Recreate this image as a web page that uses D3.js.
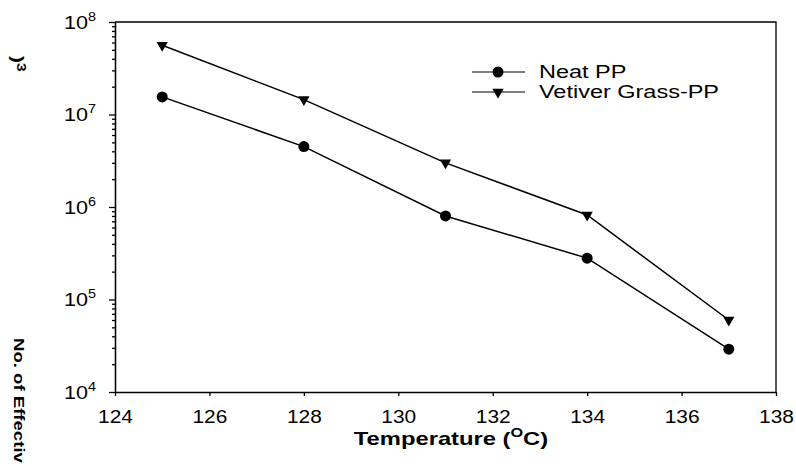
<!DOCTYPE html>
<html lang="en">
<head>
<meta charset="utf-8"/>
<script src="https://d3js.org/d3.v7.min.js"></script>
<style>
  body { margin: 0; background: #fff; }
  text { font-family: "Liberation Sans", Arial, sans-serif; fill: #000; }
</style>
</head>
<body>
<script>
    // Data
    var temps = [125, 128, 131, 134, 137];
    var neatPP = [1.55e7, 4.5e6, 8.0e5, 2.8e5, 2.9e4];
    var vetiverPP = [5.6e7, 1.45e7, 3.0e6, 8.2e5, 6.0e4];
    var seriesNames = ["Neat PP", "Vetiver Grass-PP"];
    var xTicks = [124, 126, 128, 130, 132, 134, 136, 138];
    var yExponents = [4, 5, 6, 7, 8];

    var W = 796, H = 467;
    var margin = {top: 22, right: 20, bottom: 75, left: 115};

    var svg = d3.select("body").append("svg")
        .attr("width", W)
        .attr("height", H);

    var x = d3.scaleLinear().domain([124, 138]).range([margin.left, W - margin.right]);
    var y = d3.scaleLog().domain([1e4, 1e8]).range([H - margin.bottom, margin.top]);

    // frame (top and right)
    svg.append("path")
        .attr("d", "M" + x(124) + "," + y(1e8) + "H" + x(138) + "V" + y(1e4))
        .attr("fill", "none")
        .attr("stroke", "#000")
        .attr("stroke-width", 1.3);

    // x axis
    var gx = svg.append("g")
        .attr("transform", "translate(0," + y(1e4) + ")")
        .call(d3.axisBottom(x).tickValues(xTicks).tickSize(4).tickPadding(14).tickSizeOuter(0));
    gx.selectAll("text").attr("font-size", 19).attr("font-family", "Liberation Sans, Arial")
        .attr("transform", "scale(1.1,1)");
    gx.selectAll("path, line").attr("stroke-width", 1.3);

    // y axis: minor ticks, then major ticks with 10^n labels
    var minorVals = [];
    yExponents.slice(0, -1).forEach(function(e) {
        for (var k = 2; k <= 9; k++) minorVals.push(k * Math.pow(10, e));
    });
    var gy = svg.append("g")
        .attr("transform", "translate(" + x(124) + ",0)");
    gy.call(d3.axisLeft(y).tickValues(minorVals).tickSize(3).tickFormat("").tickSizeOuter(0));
    var gyMajor = svg.append("g")
        .attr("transform", "translate(" + x(124) + ",0)")
        .call(d3.axisLeft(y).tickValues(yExponents.map(function(e) { return Math.pow(10, e); }))
            .tickSize(6).tickFormat("").tickSizeOuter(0));
    gy.selectAll("path, line").attr("stroke-width", 1.3);
    gyMajor.selectAll("path, line").attr("stroke-width", 1.3);

    gyMajor.selectAll(".tick").append("text")
        .attr("text-anchor", "end")
        .attr("transform", "translate(-19,6) scale(1.2,1)")
        .attr("font-size", 18)
        .each(function(d) {
            var t = d3.select(this);
            t.append("tspan").text("10");
            t.append("tspan").attr("font-size", 12).attr("dy", -8).text(Math.round(Math.log10(d)));
        });

    // x title
    var xt = svg.append("text")
        .attr("transform", "translate(451,445) scale(1.25,1)")
        .attr("text-anchor", "middle")
        .attr("font-weight", "bold")
        .attr("font-size", 19);
    xt.append("tspan").text("Temperature (");
    xt.append("tspan").attr("font-size", 13).attr("dy", -8).text("O");
    xt.append("tspan").attr("dy", 8).text("C)");

    // y title, as it appears in the picture: rotated clockwise, in two pieces
    svg.append("text")
        .attr("transform", "translate(14,338) rotate(90) scale(1.24,1)")
        .attr("font-weight", "bold")
        .attr("font-size", 15)
        .text("No. of Effectiv");
    var yt2 = svg.append("text")
        .attr("transform", "translate(12,56) rotate(90) scale(1.3,1)")
        .attr("font-weight", "bold")
        .attr("font-size", 16);
    yt2.append("tspan").text(")");
    yt2.append("tspan").attr("font-size", 12).attr("dy", -5).text("3");

    // series
    var series = [
        {name: seriesNames[0], values: neatPP, symbol: "circle"},
        {name: seriesNames[1], values: vetiverPP, symbol: "triangle"}
    ];
    var line = d3.line()
        .x(function(d) { return x(d[0]); })
        .y(function(d) { return y(d[1]); });

    function drawMarker(g, s) {
        if (s.symbol === "circle") {
            g.append("circle").attr("r", 5.5).attr("fill", "#000");
        } else {
            g.append("path").attr("d", d3.symbol(d3.symbolTriangle, 55)())
                .attr("transform", "rotate(180)").attr("fill", "#000");
        }
    }

    series.forEach(function(s) {
        var pts = temps.map(function(t, i) { return [t, s.values[i]]; });
        svg.append("path")
            .datum(pts)
            .attr("d", line)
            .attr("fill", "none")
            .attr("stroke", "#000")
            .attr("stroke-width", 1.5);
        svg.selectAll(null)
            .data(pts)
            .enter()
            .append("g")
            .attr("transform", function(d) { return "translate(" + x(d[0]) + "," + y(d[1]) + ")"; })
            .each(function() { drawMarker(d3.select(this), s); });
    });

    // legend
    var legend = svg.append("g").attr("transform", "translate(472,72)");
    series.forEach(function(s, i) {
        var row = legend.append("g").attr("transform", "translate(0," + (i * 20) + ")");
        row.append("line").attr("x1", 0).attr("x2", 53)
            .attr("stroke", "#000").attr("stroke-width", 1.2);
        drawMarker(row.append("g").attr("transform", "translate(26,0)"), s);
        row.append("text")
            .attr("transform", "translate(67,6) scale(1.27,1)")
            .attr("font-size", 18.5)
            .text(s.name);
    });
</script>
</body>
</html>
